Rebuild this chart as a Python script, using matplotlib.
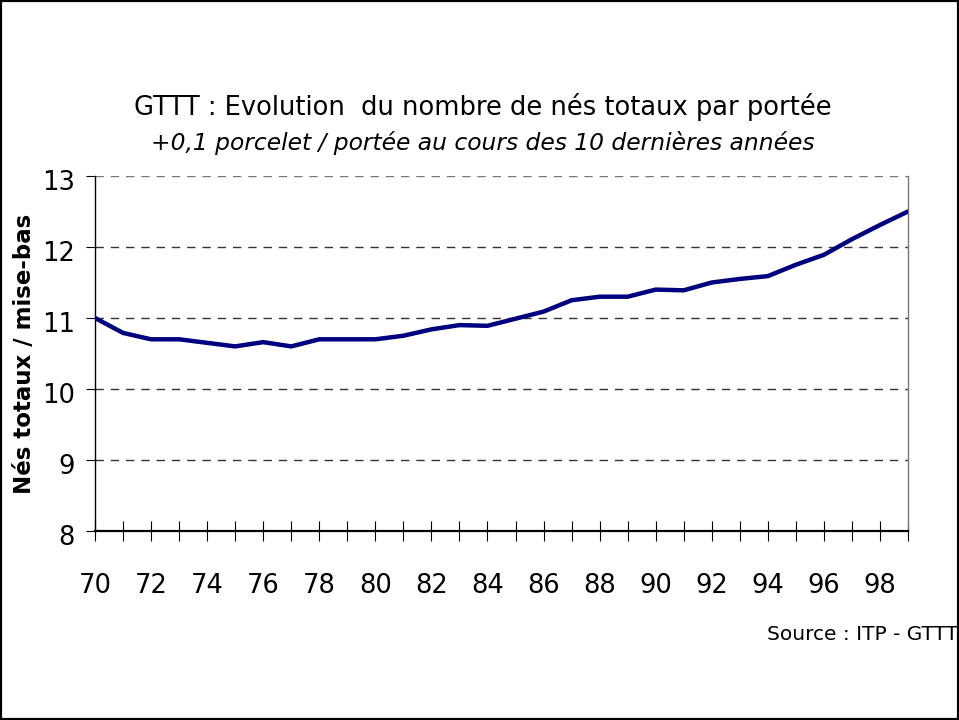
import matplotlib
matplotlib.use("Agg")
import matplotlib.pyplot as plt
from matplotlib.patches import Rectangle
from matplotlib.transforms import ScaledTranslation

years = list(range(70, 100))
nes_totaux = [11.00, 10.79, 10.70, 10.70, 10.65, 10.60, 10.66, 10.60, 10.70, 10.70,
              10.70, 10.75, 10.84, 10.90, 10.89, 10.99, 11.09, 11.25, 11.30, 11.30,
              11.40, 11.39, 11.50, 11.55, 11.59, 11.75, 11.89, 12.11, 12.31, 12.50]
xtick_labels = [str(y) for y in range(70, 100, 2)]
yticks = [8, 9, 10, 11, 12, 13]

plt.rcParams['font.family'] = ['DejaVu Sans']

fig = plt.figure(figsize=(9.59, 7.2), dpi=100)
ax = fig.add_axes([95/959, 1-531/720, (908-95)/959, (531-176)/720])

ax.plot(years, nes_totaux, color='#000080', lw=3.2, solid_joinstyle='round',
        solid_capstyle='round', zorder=3)

ax.set_xlim(70, 99)
ax.set_ylim(8, 13)
ax.set_xticks(years)
ax.set_xticklabels([str(y) if str(y) in xtick_labels else '' for y in years], fontsize=18.5)
ax.set_yticks(yticks)
ax.set_yticklabels([str(v) for v in yticks], fontsize=18.5)

for v in yticks[1:]:
    ax.axhline(v, color='#333333' if v < 13 else '#777777', lw=1.0, ls=(0, (6, 5)), zorder=1)

ax.tick_params(axis='x', direction='inout', length=14, width=0.8, pad=23)
ax.tick_params(axis='y', direction='out', length=6.5, width=0.8, pad=8)
offset = ScaledTranslation(0, -3/72, fig.dpi_scale_trans)
for lab in ax.get_yticklabels():
    lab.set_transform(lab.get_transform() + offset)

ax.spines['top'].set_visible(False)
ax.spines['right'].set_color('#777777')
ax.spines['right'].set_linewidth(1.0)
ax.spines['left'].set_linewidth(1.0)
ax.spines['bottom'].set_linewidth(1.6)

ax.set_ylabel('Nés totaux / mise-bas', fontsize=16.5, fontweight='bold', va='center')
ax.yaxis.set_label_coords(-(95-25)/(908-95), 0.5)

fig.text(483/959, 1-107/720, 'GTTT : Evolution  du nombre de nés totaux par portée',
         ha='center', va='center', fontsize=18.5)
fig.text(483/959, 1-143/720, '+0,1 porcelet / portée au cours des 10 dernières années',
         ha='center', va='center', fontsize=16.8, style='italic')
fig.text(958/959, 1-635/720, 'Source : ITP - GTTT', ha='right', va='center', fontsize=14.5)

fig.patches.append(Rectangle((0, 0), 1, 1, transform=fig.transFigure, fill=False,
                             edgecolor='black', lw=3, zorder=10))

fig.savefig('out.png', dpi=100)
